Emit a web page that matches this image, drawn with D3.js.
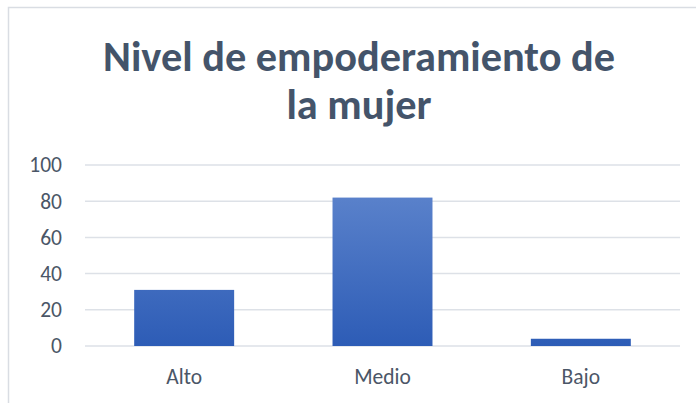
<!DOCTYPE html>
<html><head><meta charset="utf-8">
<script src="https://cdn.jsdelivr.net/npm/d3@7"></script>
<style>body{margin:0;background:#fff;} svg{display:block;}</style>
</head><body>
<svg id="c" width="696" height="403"></svg>
<script>
const categories = ["Alto", "Medio", "Bajo"];
const values = [31, 82, 4];
const yTicks = [0, 20, 40, 60, 80, 100];
const titleLines = ["Nivel de empoderamiento de", "la mujer"];

const svg = d3.select("#c");
const W = 696, H = 403;
const font = "Carlito, Calibri, Lato, sans-serif";

// chart border
svg.append("rect").attr("x", 8.5).attr("y", 7.5).attr("width", W).attr("height", H)
  .attr("fill", "#fff").attr("stroke", "#d9dde3").attr("stroke-width", 1.5);

const m = {left: 85, right: 680, top: 165, bottom: 346};
const x = d3.scaleBand().domain(categories).range([m.left, m.right]).paddingInner(0.496).paddingOuter(0.248);
const y = d3.scaleLinear().domain([0, 100]).range([m.bottom, m.top]);

const defs = svg.append("defs");
const g = defs.append("linearGradient").attr("id", "bg").attr("gradientUnits", "userSpaceOnUse")
  .attr("x1", 0).attr("x2", 0).attr("y1", y(100)).attr("y2", y(0));
g.append("stop").attr("offset", "0%").attr("stop-color", "#6389cf");
g.append("stop").attr("offset", "100%").attr("stop-color", "#2d5cb6");

// grid
svg.append("g").selectAll("line").data(yTicks).join("line")
  .attr("x1", m.left).attr("x2", m.right)
  .attr("y1", d => y(d)).attr("y2", d => y(d))
  .attr("stroke", "#dde1e7").attr("stroke-width", 1.5);

// y axis
const ya = svg.append("g").attr("transform", `translate(${m.left},0)`)
  .call(d3.axisLeft(y).tickValues(yTicks).tickSize(0).tickPadding(23));
ya.select(".domain").remove();
ya.selectAll("text").attr("font-family", font).attr("font-size", 21.5).attr("fill", "#4b5667");

// bars
svg.append("g").selectAll("rect").data(values).join("rect")
  .attr("x", (d, i) => x(categories[i]))
  .attr("width", x.bandwidth())
  .attr("y", d => y(d))
  .attr("height", d => y(0) - y(d))
  .attr("fill", "url(#bg)");

// x axis
const xa = svg.append("g").attr("transform", `translate(0,${m.bottom})`)
  .call(d3.axisBottom(x).tickSize(0).tickPadding(23));
xa.select(".domain").remove();
xa.selectAll("text").attr("font-family", font).attr("font-size", 21.5).attr("fill", "#4b5667");

// title
const targetW = [512, 150];
const baseY = [71, 119];
let titleSize = 38;
titleLines.forEach((t, i) => {
  const el = svg.append("text").attr("x", 359).attr("y", baseY[i])
    .attr("text-anchor", "middle").attr("font-family", font).attr("font-weight", "bold")
    .attr("font-size", titleSize).attr("fill", "#44546a").text(t);
  if (i === 0) {
    const w = el.node().getComputedTextLength();
    titleSize = 38 * targetW[0] / w;
    el.attr("font-size", titleSize);
  }
});
</script>
</body></html>
